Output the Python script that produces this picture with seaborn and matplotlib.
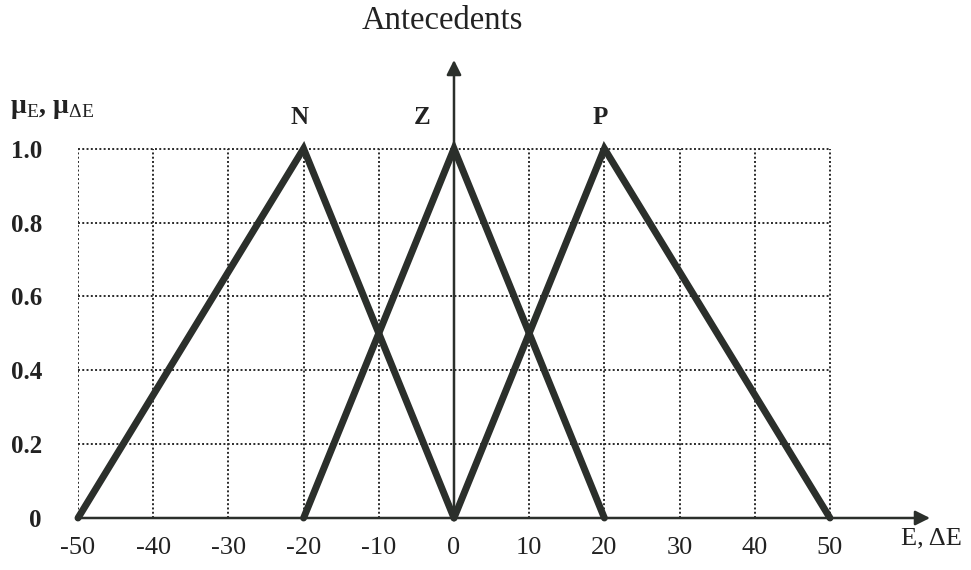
import numpy as np
import pandas as pd
import seaborn as sns
import matplotlib.pyplot as plt

# membership functions of the antecedents (triangles)
set_names = ['N', 'Z', 'P']
n_x = [-50, -20, 0]
z_x = [-20, 0, 20]
p_x = [0, 20, 50]
mu = [0, 1, 0]

x_ticks = [-50, -40, -30, -20, -10, 0, 10, 20, 30, 40, 50]
y_ticks = [0, 0.2, 0.4, 0.6, 0.8, 1.0]
y_tick_labels = ['0', '0.2', '0.4', '0.6', '0.8', '1.0']

df = pd.DataFrame({
    'x': n_x + z_x + p_x,
    'mu': mu * 3,
    'set': [s for s in set_names for _ in range(3)],
})

sns.set_style('white')
plt.rcParams['font.family'] = ['Liberation Serif', 'DejaVu Serif']
plt.rcParams['mathtext.fontset'] = 'custom'
plt.rcParams['mathtext.rm'] = 'Liberation Serif'

ink = '#2b2f2b'
fig = plt.figure(figsize=(9.71, 5.70), dpi=100)
ax = fig.add_axes([78 / 971, 52 / 570, 852 / 971, 458 / 570])
x_end = 63.3
y_end = 1.24
ax.set_xlim(-50, x_end)
ax.set_ylim(0, y_end)

# dotted grid
ax.vlines(x_ticks, 0, 1.0, colors='#2a2a2a', linestyles=(0, (1, 1.2)), linewidth=1.4, zorder=1)
ax.hlines(y_ticks[1:], -50, 50, colors='#2a2a2a', linestyles=(0, (1, 1.2)), linewidth=1.4, zorder=1)

sns.lineplot(data=df, x='x', y='mu', hue='set', palette=[ink] * 3, sort=False,
             linewidth=5, legend=False, ax=ax, zorder=3, clip_on=False,
             solid_capstyle='round', solid_joinstyle='miter')

# axes arrows
arrow = dict(arrowstyle='-|>', color=ink, lw=1.8, mutation_scale=22, shrinkA=0, shrinkB=0)
ax.annotate('', xy=(x_end, 0), xytext=(-50, 0), arrowprops=arrow, annotation_clip=False)
ax.annotate('', xy=(0, y_end), xytext=(0, 0), arrowprops=arrow, annotation_clip=False)

for s in ax.spines.values():
    s.set_visible(False)
ax.set_xticks(x_ticks, [str(v) for v in x_ticks])
ax.set_yticks(y_ticks, y_tick_labels)
ax.tick_params(axis='x', length=0, pad=14, labelsize=19, colors='#222222')
ax.tick_params(axis='y', length=0, pad=26, labelsize=18, colors='#222222')
for lab in ax.get_yticklabels():
    lab.set_fontweight('bold')
ax.set_xlabel('')
ax.set_ylabel('')

for name, xp in zip(set_names, [-20.5, -4.3, 19.5]):
    ax.text(xp, 1.085, name, ha='center', va='center', fontsize=18, fontweight='bold', color='#222222')

ax.text(-1.5, 1.345, 'Antecedents', ha='center', va='center', fontsize=23.5, color='#222222', clip_on=False)
ax.text(-59, 1.108, r'μ$_\mathrm{E}$, μ$_\mathrm{\Delta E}$', ha='left', va='center', fontsize=20,
        fontweight='bold', color='#222222', clip_on=False)
ax.text(59.5, -0.055, 'E, ΔE', ha='left', va='center', fontsize=19, color='#222222', clip_on=False)

fig.savefig('out.png', dpi=100, facecolor='white')
